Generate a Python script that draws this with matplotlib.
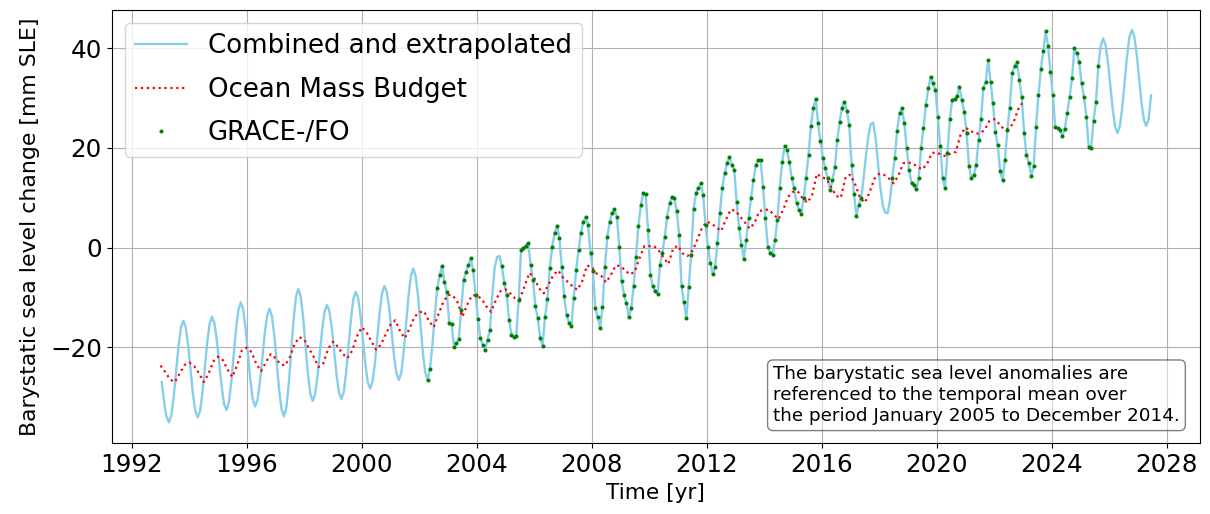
import matplotlib
matplotlib.use("Agg")
import matplotlib.pyplot as plt
import numpy as np

# combined and extrapolated barystatic sea level, monthly from Jan 1993 [mm SLE]
combined_mm = [
    -27.0, -31.1, -34.0, -35.1, -33.7, -30.0, -24.9, -19.8, -16.1, -14.7, -16.0, -19.5,  # 1993
    -24.4, -29.3, -32.8, -34.1, -32.8, -29.1, -24.0, -19.0, -15.3, -13.9, -15.2, -18.6,  # 1994
    -23.3, -27.9, -31.4, -32.6, -31.2, -27.2, -21.8, -16.4, -12.5, -11.0, -12.4, -16.2,  # 1995
    -21.5, -26.7, -30.5, -31.9, -30.6, -27.0, -22.1, -17.2, -13.6, -12.3, -13.8, -17.7,  # 1996
    -23.1, -28.5, -32.5, -33.9, -32.2, -27.5, -21.1, -14.7, -10.0, -8.3, -9.8, -13.9,    # 1997
    -19.6, -25.2, -29.3, -30.8, -29.5, -26.0, -21.2, -16.3, -12.8, -11.5, -12.8, -16.2,  # 1998
    -21.0, -25.7, -29.1, -30.4, -29.0, -25.0, -19.7, -14.3, -10.3, -8.9, -10.2, -13.8,   # 1999
    -18.6, -23.5, -27.0, -28.3, -26.9, -23.2, -18.0, -12.9, -9.1, -7.7, -9.0, -12.4,     # 2000
    -17.2, -21.9, -25.3, -26.6, -25.1, -21.0, -15.4, -9.8, -5.7, -4.2, -5.7, -9.8,       # 2001
    -15.4, -21.0, -25.1, -26.6, -24.3, -19.5, -13.5, -8.2, -5.5, -3.7, -6.9, -9.0,       # 2002
    -15.1, -15.3, -20.0, -19.2, -18.4, -12.5, -6.6, -4.9, -3.5, -2.1, -4.6, -9.5,        # 2003
    -14.3, -18.2, -19.5, -20.5, -18.5, -16.5, -9.5, -4.0, -1.9, -1.7, -3.8, -7.1,        # 2004
    -9.5, -14.5, -17.5, -17.9, -17.7, -10.5, -0.5, 0.0, 0.4, 0.9, -3.5, -6.5,            # 2005
    -11.8, -14.2, -18.2, -19.7, -13.9, -10.4, -4.1, 0.2, 2.9, 4.4, 2.0, -4.0,            # 2006
    -9.8, -13.5, -15.1, -15.7, -10.2, -4.5, -0.5, 3.0, 5.2, 6.1, 4.5, -1.1,              # 2007
    -4.8, -12.2, -14.0, -16.1, -12.0, -4.0, 2.1, 5.2, 7.0, 7.7, 6.2, 0.1,                # 2008
    -6.8, -9.5, -11.2, -14.0, -12.2, -7.8, -1.8, 4.4, 8.5, 10.9, 10.7, 3.6,              # 2009
    -5.5, -7.8, -8.8, -9.3, -3.5, -1.0, 2.2, 6.2, 9.0, 10.1, 9.9, 7.4,                   # 2010
    2.6, -7.8, -11.0, -14.2, -8.0, -1.5, 7.7, 10.9, 12.0, 12.9, 10.6, 4.6,               # 2011
    0.2, -3.0, -5.3, -4.0, 1.0, 7.0, 12.0, 14.9, 17.0, 18.2, 16.6, 15.6,                 # 2012
    9.2, 4.0, 0.5, -2.3, 1.5, 5.9, 9.9, 13.5, 16.5, 17.5, 17.5, 12.2,                    # 2013
    6.0, 0.2, -1.0, -1.5, 1.5, 5.6, 12.0, 17.1, 20.4, 19.6, 17.1, 14.0,                  # 2014
    11.9, 9.0, 7.6, 6.8, 10.0, 14.0, 18.6, 24.4, 28.0, 29.9, 25.0, 21.3,                 # 2015
    18.0, 15.9, 13.9, 11.5, 13.5, 16.1, 21.6, 25.3, 28.0, 29.3, 27.5, 24.6,              # 2016
    16.6, 10.8, 6.4, 8.6, 9.9, 14.0, 18.5, 22.5, 24.8, 25.1, 22.0, 17.0,                 # 2017
    12.0, 8.5, 7.0, 6.9, 9.5, 14.0, 18.0, 23.5, 27.0, 28.0, 25.0, 20.0,                  # 2018
    15.6, 13.0, 12.5, 11.7, 13.9, 20.0, 24.0, 28.7, 32.0, 34.3, 33.0, 31.7,              # 2019
    26.2, 20.3, 14.0, 11.9, 19.0, 25.8, 29.7, 29.8, 30.5, 32.3, 29.7, 27.3,              # 2020
    23.0, 16.3, 13.9, 14.5, 16.6, 21.6, 25.8, 32.0, 33.3, 37.7, 33.3, 29.0,              # 2021
    23.3, 20.6, 15.3, 13.6, 17.6, 23.6, 28.0, 35.0, 36.5, 37.3, 33.7, 30.3,              # 2022
    23.1, 18.6, 16.9, 14.4, 16.3, 24.2, 30.7, 35.8, 39.4, 43.4, 40.5, 35.3,              # 2023
    30.7, 24.3, 24.0, 23.6, 22.4, 23.8, 27.1, 30.3, 34.0, 40.0, 39.0, 37.3,              # 2024
    33.0, 30.2, 26.3, 20.1, 20.0, 25.5, 29.2, 36.5, 40.5, 42.0, 40.7, 37.3,              # 2025
    32.5, 27.8, 24.3, 23.0, 24.4, 28.2, 33.4, 38.5, 42.3, 43.7, 42.4, 38.9,              # 2026
    34.1, 29.2, 25.7, 24.4, 25.8, 30.6,                                                  # 2027
]
combined_start = 1993

# GRACE / GRACE-FO months (solutions lie on the combined curve)
grace_first = (2002, 4)
grace_last = (2025, 8)
grace_missing = ["2002-06", "2002-07", "2004-07", "2004-08", "2004-09", "2004-10",
                 "2017-06", "2017-07", "2017-08", "2017-09", "2017-10", "2017-11",
                 "2017-12", "2018-01", "2018-02", "2018-03", "2018-04", "2018-05"]

# ocean mass budget, every two months from Jan 1993 [mm SLE]
omb_mm = [
    -23.7, -25.0, -26.5, -27.0, -25.3, -23.6,  # 1993
    -23.1, -23.8, -25.2, -27.0, -25.4, -22.9,  # 1994
    -21.9, -22.6, -24.5, -26.0, -23.6, -20.6,  # 1995
    -20.1, -21.0, -23.4, -24.8, -23.0, -21.4,  # 1996
    -22.2, -23.4, -23.7, -22.0, -19.3, -18.0,  # 1997
    -18.5, -20.3, -22.0, -24.0, -23.2, -20.3,  # 1998
    -18.9, -19.9, -21.3, -22.2, -20.7, -17.8,  # 1999
    -16.0, -17.0, -18.8, -20.5, -19.5, -17.4,  # 2000
    -15.5, -14.6, -16.8, -18.2, -16.2, -13.9,  # 2001
    -13.0, -12.8, -14.7, -16.0, -13.4, -11.0,  # 2002
    -9.5, -9.6, -11.0, -13.9, -11.5, -9.6,     # 2003
    -9.6, -10.3, -11.8, -12.9, -10.5, -8.7,    # 2004
    -8.4, -9.2, -10.2, -10.3, -7.7, -5.1,      # 2005
    -6.1, -8.2, -9.2, -7.4, -5.5, -4.6,        # 2006
    -6.0, -6.9, -7.8, -8.5, -6.8, -3.6,        # 2007
    -3.9, -5.2, -5.7, -7.0, -5.5, -3.6,        # 2008
    -3.7, -4.6, -5.4, -4.8, -2.1, 0.3,         # 2009
    0.3, 0.3, -0.6, -2.0, -3.3, -0.2,          # 2010
    0.4, -1.2, -1.7, -0.7, 1.5, 3.9,           # 2011
    5.2, 4.8, 4.1, 3.3, 5.6, 7.6,              # 2012
    7.4, 6.2, 5.0, 3.8, 5.0, 7.3,              # 2013
    7.6, 7.6, 6.6, 5.7, 7.7, 10.2,             # 2014
    11.2, 11.3, 9.9, 9.0, 10.5, 14.8,          # 2015
    14.1, 13.8, 12.1, 10.4, 10.0, 14.2,        # 2016
    14.6, 12.7, 10.0, 9.0, 11.1, 13.8,         # 2017
    14.8, 14.6, 13.9, 12.9, 14.4, 16.9,        # 2018
    17.1, 16.9, 16.2, 15.7, 16.8, 19.0,        # 2019
    19.1, 18.6, 18.3, 19.0, 19.2, 22.7,        # 2020
    24.1, 23.5, 22.9, 22.9, 23.6, 25.4,        # 2021
    25.8, 24.9, 23.8, 23.8, 25.0, 27.7,        # 2022
    29.2,                                      # 2023
]
omb_start = 1993

note = ("The barystatic sea level anomalies are\n"
        "referenced to the temporal mean over\n"
        "the period January 2005 to December 2014.")

# time axes
combined = np.array(combined_mm)
t_comb = combined_start + (np.arange(len(combined)) + 0.5) / 12
omb = np.array(omb_mm)
t_omb = omb_start + np.arange(len(omb)) / 6

months = [(combined_start + i // 12, i % 12 + 1) for i in range(len(combined))]
gmask = np.array([grace_first <= ym <= grace_last and "%d-%02d" % ym not in grace_missing
                  for ym in months])

fig = plt.figure(figsize=(12.1, 5.14), dpi=100)
ax = fig.add_axes([0.0923, 0.1376, 0.8994, 0.8429])

ax.plot(t_comb, combined, color='skyblue', lw=1.7, label='Combined and extrapolated')
ax.plot(t_omb, omb, 'r:', lw=1.6, label='Ocean Mass Budget')
ax.plot(t_comb[gmask], combined[gmask], '.', color='green', ms=3.8, label='GRACE-/FO')

ax.set_xlim(1991.30, 2029.16)
ax.set_ylim(-39.3, 47.7)
ax.set_xticks(np.arange(1992, 2029, 4))
ax.set_yticks([-20, 0, 20, 40])
ax.grid(True)
ax.tick_params(labelsize=17.7)
ax.set_xlabel('Time [yr]', fontsize=15.6)
ax.set_ylabel('Barystatic sea level change [mm SLE]', fontsize=15.8, labelpad=7.5)
ax.legend(loc='upper left', fontsize=18.7, labelspacing=0.67)
ax.text(0.9815, 0.042, note, transform=ax.transAxes, ha='right', va='bottom',
        multialignment='left', fontsize=13.2,
        bbox=dict(boxstyle='round', facecolor='white', alpha=0.5))

fig.savefig('out.png', dpi=100)
